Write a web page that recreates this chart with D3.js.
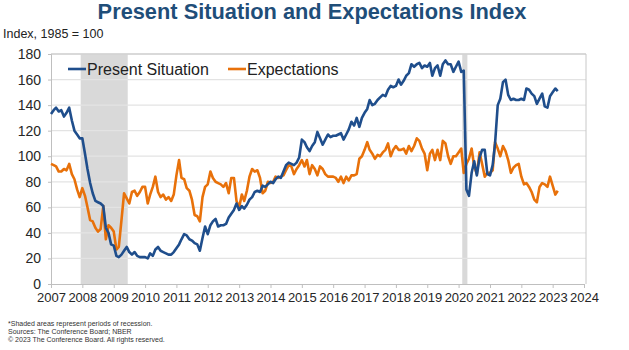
<!DOCTYPE html>
<html>
<head>
<meta charset="utf-8">
<script src="https://cdn.jsdelivr.net/npm/d3@7"></script>
<style>
  body { margin: 0; background: #fff; }
  text { font-family: "Liberation Sans", Arial, sans-serif; }
</style>
</head>
<body>
<div id="chart"></div>
<script>
// monthly values, Jan 2007 .. Mar 2023
var presentSituation = [
  133, 136, 138, 135, 136, 131, 134, 138, 128, 120, 117, 114,
  114, 102, 90, 79, 71, 65, 64, 63, 61, 44, 40, 31,
  30, 22, 21, 23, 26, 29, 25, 23, 25, 22, 21, 21,
  21, 20, 24, 22, 27, 29, 26, 25, 24, 23, 23, 25,
  28, 31, 35, 39, 38, 35, 34, 32, 31, 26, 36, 45,
  39, 46, 49, 51, 45, 46, 46, 47, 52, 55, 58, 63,
  58, 61, 59, 62, 66, 68, 72, 73, 72, 77, 76, 78,
  80, 79, 82, 84, 83, 88, 93, 95, 94, 93, 95, 99,
  113, 111, 107, 104, 108, 111, 119, 114, 109, 113, 117, 115,
  116, 116, 117, 118, 113, 117, 121, 127, 124, 130, 123, 130,
  134, 137, 144, 140, 141, 144, 146, 148, 147, 152, 155, 154,
  155, 160, 156, 159, 163, 165, 172, 170, 172, 173, 169, 171,
  170, 173, 163, 169, 171, 163, 172, 175, 172, 172, 166, 170,
  174, 166, 167, 74, 69, 87, 96, 85, 99, 105, 105, 86,
  85, 93, 110, 140, 145, 158, 160, 148, 144, 145, 144, 144,
  145, 144, 153, 152, 149, 147, 141, 145, 149, 139, 138, 147,
  150, 153, 151
];
var expectations = [
  94, 93, 92, 88, 88, 90, 89, 94, 86, 82, 74, 68,
  75, 69, 60, 50, 49, 44, 41, 43, 61, 35, 46, 44,
  41, 27, 29, 50, 71, 67, 63, 72, 73, 69, 72, 76,
  76, 63, 70, 76, 84, 72, 68, 70, 66, 68, 65, 70,
  85, 97, 83, 82, 75, 73, 66, 54, 53, 49, 68, 76,
  78, 88, 83, 80, 79, 78, 76, 79, 71, 83, 83, 65,
  60, 70, 65, 73, 84, 90, 88, 89, 83, 71, 73, 80,
  79, 80, 84, 83, 84, 85, 89, 93, 92, 86, 90, 93,
  97, 92, 97, 86, 93, 90, 85, 92, 90, 86, 84, 84,
  84, 83, 80, 84, 79, 84, 81, 85, 85, 86, 98, 100,
  105, 111, 105, 102, 98, 101, 100, 103, 105, 110, 100, 105,
  108, 105, 105, 106, 102, 108, 104, 108, 114, 112, 106, 102,
  89, 102, 105, 97, 105, 97, 112, 110, 100, 94, 100, 100,
  103, 106, 87, 94, 98, 106, 92, 86, 103, 94, 84, 87,
  87, 89, 111, 106, 100, 108, 104, 97, 87, 91, 93, 94,
  84, 78, 79, 76, 72, 66, 64, 76, 79, 78, 76, 84,
  77, 70, 73
];
var yearTicks = d3.range(2007, 2025);
var yTicks = d3.range(0, 181, 20);
var recessions = [["2007-12-01", "2009-06-01"], ["2020-02-01", "2020-04-01"]];
var seriesNames = ["Present Situation", "Expectations"];
var seriesColors = ["#1f4e8c", "#e8710a"];
var notes = [
  "*Shaded areas represent periods of recession.",
  "Sources: The Conference Board; NBER",
  "\u00a9 2023 The Conference Board. All rights reserved."
];

var W = 629, H = 350;
var plotL = 51, plotR = 584, plotT = 54, plotB = 284;

var svg = d3.select("#chart").append("svg")
  .attr("width", W).attr("height", H);

var parse = d3.timeParse("%Y-%m-%d");
var start = new Date(2007, 0, 1);
function monthDate(i) { return d3.timeMonth.offset(start, i); }

var x = d3.scaleTime()
  .domain([new Date(2007, 0, 1), new Date(2024, 0, 1)])
  .range([plotL, plotR]);
var y = d3.scaleLinear().domain([0, 180]).range([plotB, plotT]);

// title
svg.append("text")
  .attr("x", 312).attr("y", 19)
  .attr("text-anchor", "middle")
  .style("font-size", "21.8px").style("font-weight", "bold")
  .style("fill", "#1f4e79")
  .text("Present Situation and Expectations Index");

svg.append("text")
  .attr("x", 3).attr("y", 38)
  .style("font-size", "12.5px").style("fill", "#222")
  .text("Index, 1985 = 100");

// recession bands
svg.selectAll("rect.rec")
  .data(recessions).enter()
  .append("rect")
    .attr("class", "rec")
    .attr("x", function(d) { return x(parse(d[0])) + 1; })
    .attr("width", function(d) { return x(parse(d[1])) - x(parse(d[0])); })
    .attr("y", plotT)
    .attr("height", plotB - plotT)
    .style("fill", "#d9d9d9");

// gridlines
svg.selectAll("line.grid")
  .data(yTicks.filter(function(v) { return v > 0; })).enter()
  .append("line")
    .attr("x1", plotL).attr("x2", plotR + 2)
    .attr("y1", function(d) { return y(d); })
    .attr("y2", function(d) { return y(d); })
    .style("stroke", "#e3e3e3").style("stroke-width", 1.3);

// frame top/right
svg.append("path")
  .attr("d", "M" + plotL + "," + plotT + "H" + (plotR + 2) + "V" + plotB)
  .style("fill", "none").style("stroke", "#c8c8c8").style("stroke-width", 1);

// y axis
var yAxis = svg.append("g")
  .attr("transform", "translate(" + plotL + ",0)")
  .call(d3.axisLeft(y).tickValues(yTicks).tickSize(3).tickPadding(7));
yAxis.select(".domain").style("stroke", "#bfbfbf");
yAxis.selectAll(".tick line").style("stroke", "#bfbfbf");
yAxis.selectAll(".tick text")
  .style("font-size", "14px").style("fill", "#262626")
  .style("font-family", "'Liberation Sans', Arial, sans-serif");

// x axis
var xAxis = svg.append("g")
  .attr("transform", "translate(0," + plotB + ")")
  .call(d3.axisBottom(x)
    .tickValues(yearTicks.map(function(yr) { return new Date(yr, 0, 1); }))
    .tickFormat(d3.timeFormat("%Y"))
    .tickSize(4).tickPadding(5));
xAxis.select(".domain").style("stroke", "#bfbfbf");
xAxis.selectAll(".tick line").style("stroke", "#bfbfbf");
xAxis.selectAll(".tick text")
  .style("font-size", "13px").style("fill", "#262626")
  .style("font-family", "'Liberation Sans', Arial, sans-serif");

// lines
var line = d3.line()
  .x(function(d, i) { return x(monthDate(i)); })
  .y(function(d) { return y(d); });

[expectations, presentSituation].forEach(function(s, k) {
  svg.append("path")
    .datum(s)
    .attr("d", line)
    .style("fill", "none")
    .style("stroke", seriesColors[1 - k])
    .style("stroke-width", 2.6)
    .style("stroke-linejoin", "round");
});

// legend
var legendX = [68, 228];
seriesNames.forEach(function(n, i) {
  var g = svg.append("g").attr("transform", "translate(" + legendX[i] + ",69)");
  g.append("line").attr("x1", 0).attr("x2", 18).attr("y1", 0).attr("y2", 0)
    .style("stroke", seriesColors[i]).style("stroke-width", 2.6);
  g.append("text").attr("x", 19).attr("y", 5.5)
    .style("font-size", "16px").style("fill", "#222")
    .text(n);
});

// notes
svg.selectAll("text.note")
  .data(notes).enter()
  .append("text")
    .attr("class", "note")
    .attr("x", 8)
    .attr("y", function(d, i) { return 326 + i * 8; })
    .style("font-size", "7px").style("fill", "#333")
    .text(function(d) { return d; });
</script>
</body>
</html>
